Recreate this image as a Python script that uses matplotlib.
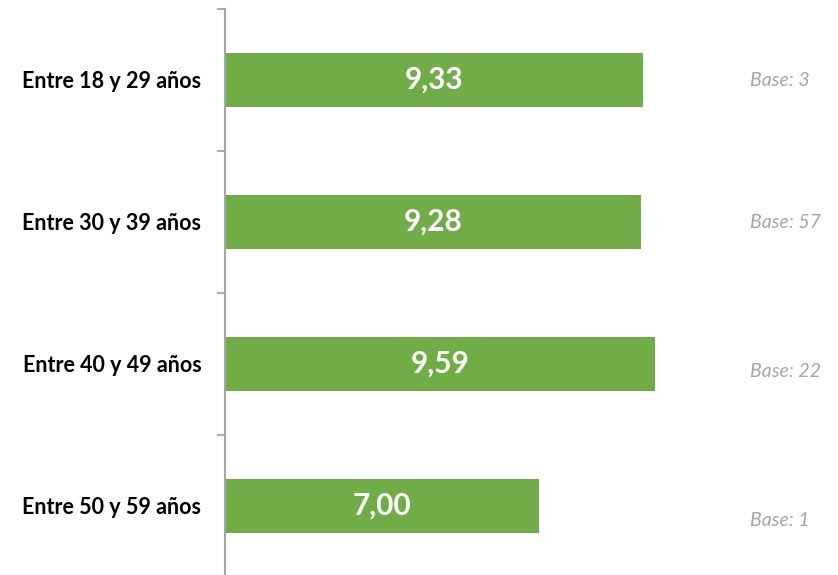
import matplotlib.pyplot as plt
import numpy as np

categories = ["Entre 18 y 29 años", "Entre 30 y 39 años", "Entre 40 y 49 años", "Entre 50 y 59 años"]
values = [9.33, 9.28, 9.59, 7.00]
bases = ["Base: 3", "Base: 57", "Base: 22", "Base: 1"]
base_offsets = [0.0, 0.0, 0.05, 0.1]  # slight vertical shift of the base notes

plt.rcParams['font.family'] = ['Lato', 'DejaVu Sans']

fig = plt.figure(figsize=(8.38, 5.75), dpi=100)
ax = fig.add_axes([225 / 838, -2 / 575, 1 - 225 / 838, 568 / 575])

y = np.arange(len(categories))
ax.barh(y, values, height=0.38, color='#70ad47')

for yi, v in zip(y, values):
    ax.text(v / 2, yi, f"{v:.2f}".replace('.', ','), ha='center', va='center',
            color='white', fontsize=21.5, fontweight='bold')

for yi, b, off in zip(y, bases, base_offsets):
    ax.text(11.72, yi + off, b, ha='left', va='center', color='#a6a6a6',
            fontsize=14, fontstyle='italic')

ax.set_xlim(0, 613 / 44.8)
ax.set_ylim(len(categories) - 0.5, -0.5)

ax.set_yticks(y)
ax.set_yticklabels(categories, fontsize=15.5, fontweight='bold')
ax.tick_params(axis='y', which='major', length=0, pad=17)
ax.set_yticks(np.arange(-0.5, len(categories), 1), minor=True)
ax.tick_params(axis='y', which='minor', length=6, width=1.3, color='#a6a6a6')
ax.set_xticks([])

for s in ['top', 'right', 'bottom']:
    ax.spines[s].set_visible(False)
ax.spines['left'].set_color('#a6a6a6')
ax.spines['left'].set_linewidth(1.5)

fig.savefig('out.png', dpi=100)
